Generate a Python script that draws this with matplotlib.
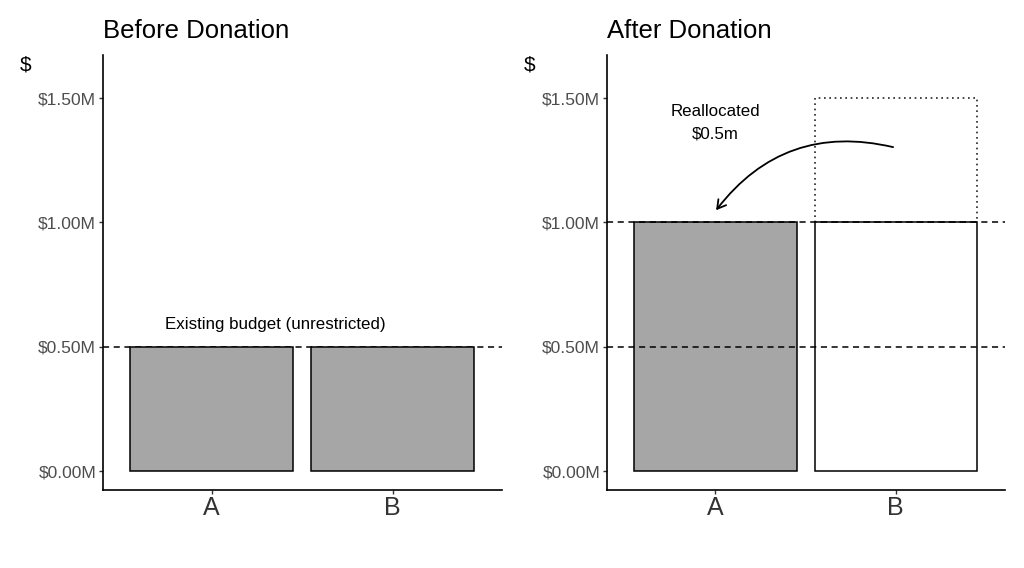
import matplotlib
matplotlib.use("Agg")
import matplotlib.pyplot as plt
from matplotlib.patches import FancyArrowPatch
from matplotlib.ticker import FuncFormatter

plt.rcParams['font.family'] = ['Liberation Sans', 'DejaVu Sans']

groups = ["A", "B"]
before_vals = [0.5, 0.5]
after_vals = [1.0, 1.0]
after_colors = ["#A6A6A6", "white"]
reallocated = 0.5
yticks = [0.0, 0.5, 1.0, 1.5]

fig = plt.figure(figsize=(10.24, 5.68), dpi=100)
ax1 = fig.add_axes([103/1024, 1-490/568, 399/1024, 435/568])
ax2 = fig.add_axes([607/1024, 1-490/568, 398/1024, 435/568])

x = [1, 2]
fmt = FuncFormatter(lambda v, p: "${:.2f}M".format(v))


def style(ax, title):
    ax.set_xlim(0.40, 2.605)
    ax.set_ylim(-0.076, 1.673)
    ax.set_yticks(yticks)
    ax.yaxis.set_major_formatter(fmt)
    ax.set_xticks(x)
    ax.set_xticklabels(groups, fontsize=18, color="#333333")
    ax.tick_params(axis="y", labelsize=12.5, labelcolor="#4D4D4D", length=3, width=1, color="#333333", pad=2)
    ax.tick_params(axis="x", length=3, width=1, color="#333333", pad=1)
    for s in ["top", "right"]:
        ax.spines[s].set_visible(False)
    for s in ["left", "bottom"]:
        ax.spines[s].set_linewidth(1.2)
    ax.set_title(title, loc="left", fontsize=18.5, pad=12)
    ax.text(-0.208, 1.0, "$", transform=ax.transAxes, fontsize=15, ha="left", va="top")


# Before
ax1.axhline(0.5, color="black", lw=1.1, dashes=(4, 3), zorder=1)
ax1.bar(x, before_vals, width=0.9, color="#A6A6A6", edgecolor="black", linewidth=1.1, zorder=2)
ax1.text(1.355, 0.591, "Existing budget (unrestricted)", ha="center", va="center", fontsize=12.2)
style(ax1, "Before Donation")

# After
ax2.bar(x, after_vals, width=0.9, color=after_colors, edgecolor="black", linewidth=1.1, zorder=1)
ax2.bar([2], [reallocated], bottom=[after_vals[1]], width=0.9, fill=False,
        edgecolor="#222222", linewidth=1.2, linestyle=(0, (1, 2.2)), zorder=1)
ax2.axhline(1.0, color="black", lw=1.1, dashes=(4, 3), zorder=2)
ax2.axhline(0.5, color="black", lw=1.1, dashes=(4, 3), zorder=2)
ax2.text(1.0, 1.40, "Reallocated\n$0.5m", ha="center", va="center", fontsize=12.2, linespacing=1.6)
arr = FancyArrowPatch((2.0, 1.30), (0.995, 1.04), connectionstyle="arc3,rad=0.33",
                      arrowstyle="->,head_length=6,head_width=3.5", color="black", lw=1.3, zorder=3)
ax2.add_patch(arr)
style(ax2, "After Donation")

fig.savefig("out.png", dpi=100)
